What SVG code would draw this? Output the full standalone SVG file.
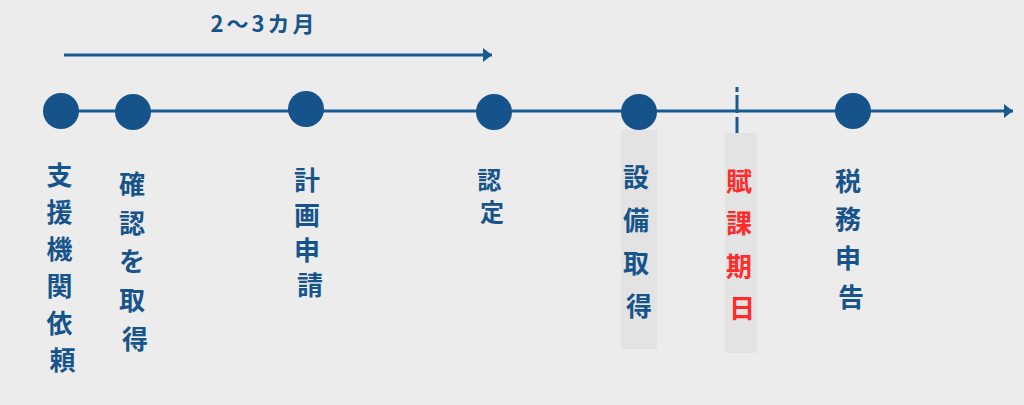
<svg xmlns="http://www.w3.org/2000/svg" width="1024" height="405" viewBox="0 0 1024 405">
  <defs>
    <style>
      .bg { fill: #ececec; }
      .dot { fill: #16538a; }
      .line { stroke: #1a5a93; stroke-width: 3; fill: none; }
      .lbl { font-family: "Noto Sans CJK JP", "Noto Sans", sans-serif; font-weight: 700; font-size: 26px; fill: #17548b; text-anchor: middle; }
      .sm { font-size: 24px; }
      .red { fill: #ff2b2b; }
      .shade { fill: #e3e3e3; }
      .top { font-family: "Noto Sans CJK JP", "Noto Sans", sans-serif; font-weight: 700; font-size: 22px; fill: #17548b; text-anchor: middle; letter-spacing: 3px; }
    </style>
    <marker id="arrow" markerWidth="10" markerHeight="14" refX="9" refY="7" orient="auto" markerUnits="userSpaceOnUse">
      <path d="M0,0 L9,7 L0,14 Z" fill="#1a5a93"/>
    </marker>
  </defs>
  <rect class="bg" x="0" y="0" width="1024" height="405"/>

  <rect class="shade" x="621" y="130" width="36" height="219"/>
  <rect class="shade" x="725" y="133" width="32" height="220"/>

  <g id="connectors">
    <line class="line" x1="62" y1="111" x2="1013" y2="111" marker-end="url(#arrow)"/>
    <line class="line" x1="64" y1="55" x2="492" y2="55" marker-end="url(#arrow)"/>
    <line class="line" x1="737" y1="87" x2="737" y2="92"/>
    <line class="line" x1="737" y1="95" x2="737" y2="113"/>
    <line class="line" x1="737" y1="117" x2="737" y2="133"/>
  </g>

  <g id="period-label">
    <text class="top" x="264" y="32">2〜3カ月</text>
  </g>

  <g id="node-shien">
    <circle class="dot" cx="61" cy="111" r="18"/>
    <text class="lbl">
      <tspan x="62.5" y="185">支</tspan>
      <tspan x="62.5" y="222">援</tspan>
      <tspan x="62.5" y="259">機</tspan>
      <tspan x="62.5" y="296">関</tspan>
      <tspan x="62.5" y="333">依</tspan>
      <tspan x="62.5" y="370">頼</tspan>
    </text>
  </g>

  <g id="node-kakunin">
    <circle class="dot" cx="133" cy="112" r="18"/>
    <text class="lbl">
      <tspan x="135" y="194">確</tspan>
      <tspan x="135" y="233">認</tspan>
      <tspan x="135" y="271">を</tspan>
      <tspan x="135" y="310">取</tspan>
      <tspan x="135" y="349">得</tspan>
    </text>
  </g>

  <g id="node-keikaku">
    <circle class="dot" cx="306" cy="109" r="18"/>
    <text class="lbl">
      <tspan x="310" y="190">計</tspan>
      <tspan x="310" y="225">画</tspan>
      <tspan x="310" y="260">申</tspan>
      <tspan x="310" y="295">請</tspan>
    </text>
  </g>

  <g id="node-nintei">
    <circle class="dot" cx="494" cy="112" r="18"/>
    <text class="lbl sm">
      <tspan x="492" y="189">認</tspan>
      <tspan x="492" y="221">定</tspan>
    </text>
  </g>

  <g id="node-setsubi">
    <circle class="dot" cx="639" cy="112" r="18"/>
    <text class="lbl">
      <tspan x="639" y="187">設</tspan>
      <tspan x="639" y="230">備</tspan>
      <tspan x="639" y="273">取</tspan>
      <tspan x="639" y="316">得</tspan>
    </text>
  </g>

  <g id="node-fuka">
    <text class="lbl red">
      <tspan x="742" y="191">賦</tspan>
      <tspan x="742" y="233">課</tspan>
      <tspan x="742" y="276">期</tspan>
      <tspan x="742" y="318">日</tspan>
    </text>
  </g>

  <g id="node-zeimu">
    <circle class="dot" cx="853" cy="111" r="18"/>
    <text class="lbl">
      <tspan x="851" y="191">税</tspan>
      <tspan x="851" y="229">務</tspan>
      <tspan x="851" y="268">申</tspan>
      <tspan x="851" y="307">告</tspan>
    </text>
  </g>
</svg>
